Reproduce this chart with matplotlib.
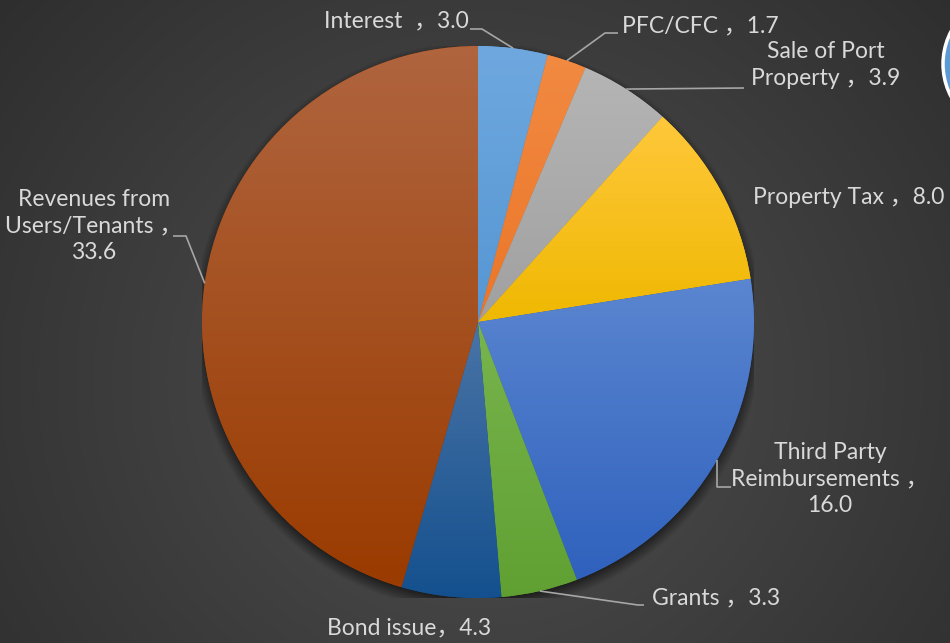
import numpy as np
import matplotlib
matplotlib.use("Agg")
import matplotlib.pyplot as plt
from matplotlib.colors import to_rgb
from matplotlib.patches import Circle

# ---- data -------------------------------------------------------------
categories = ["Interest", "PFC/CFC", "Sale of Port Property", "Property Tax",
              "Third Party Reimbursements", "Grants", "Bond issue",
              "Revenues from Users/Tenants"]
values = [3.0, 1.7, 3.9, 8.0, 16.0, 3.3, 4.3, 33.6]
label_texts = ["Interest  ，3.0", "PFC/CFC ，1.7", "Sale of Port\nProperty ，3.9",
               "Property Tax ，8.0", "Third Party\nReimbursements ，\n16.0",
               "Grants ，3.3", "Bond issue，4.3",
               "Revenues from\nUsers/Tenants ，\n33.6"]

# slice gradients (top -> bottom)
top_colors = ["#6fa8df", "#f28a42", "#b5b5b5", "#ffc83c", "#5b86d0",
              "#78b54e", "#4a74a6", "#b0653f"]
bottom_colors = ["#5596d3", "#ea7628", "#a0a0a0", "#efb800", "#2f61bd",
                 "#60a032", "#14508e", "#9a3b00"]

# label placement (pixel layout, y measured from top)
label_pos = [(469, 21), (622, 26), (826, 65), (849, 197), (830, 479),
             (652, 598), (409, 628), (94, 226)]
label_ha = ["right", "left", "center", "center", "center", "left", "center", "center"]
# leader line elbow points (None = no leader line)
leader_elbow = [[(482, 29), (470, 29)],
                [(605, 33), (618, 33)],
                [(744, 88)],
                None,
                [(717, 487), (731, 487)],
                [(638, 605), (644, 605)],
                None,
                [(186, 236), (173, 236)]]

W, H = 950, 643
CX, CY, R = 478, 322, 276

fig = plt.figure(figsize=(W / 100, H / 100), dpi=100)

# ---- background with radial shading -----------------------------------
ax_bg = fig.add_axes([0, 0, 1, 1], zorder=0)
yy, xx = np.mgrid[0:H, 0:W]
d = np.hypot(xx - 480, (yy - 380) * 1.05) / 700.0
d = np.clip(d, 0, 1)
inner = np.array(to_rgb("#505050"))
outer = np.array(to_rgb("#2a2a2a"))
bg = inner[None, None, :] * (1 - d[..., None]) + outer[None, None, :] * d[..., None]
ax_bg.imshow(bg, extent=(0, W, H, 0), aspect="auto", interpolation="bilinear")
ax_bg.set_xlim(0, W)
ax_bg.set_ylim(H, 0)
ax_bg.axis("off")

# ---- pie -----------------------------------------------------------------
ax = fig.add_axes([(CX - R) / W, (H - CY - R) / H, 2 * R / W, 2 * R / H], zorder=1)
ax.patch.set_visible(False)

# soft drop shadow under the pie
sg = np.linspace(-1.2, 1.2, 600)
sx, sy = np.meshgrid(sg, sg)
sd = np.hypot(sx, sy + 0.018)
salpha = np.clip((1.035 - sd) / 0.05, 0, 1) * 0.55
shadow = np.zeros((600, 600, 4))
shadow[..., 3] = salpha
ax.imshow(shadow, extent=(-1.2, 1.2, -1.2, 1.2), origin="lower",
          interpolation="bilinear", zorder=0)

wedges, _ = ax.pie(values, startangle=90, counterclock=False, radius=1.0,
                   colors=bottom_colors, wedgeprops=dict(linewidth=0))
for w, ct, cb in zip(wedges, top_colors, bottom_colors):
    w.set_zorder(1)
    t = np.radians(np.linspace(w.theta1, w.theta2, 200))
    ys = np.concatenate([[0.0], np.sin(t)])
    xs = np.concatenate([[0.0], np.cos(t)])
    y0, y1 = ys.min(), ys.max()
    x0, x1 = xs.min(), xs.max()
    f = np.linspace(0, 1, 256)[:, None, None]
    grad = np.array(to_rgb(cb))[None, None, :] * (1 - f) + np.array(to_rgb(ct))[None, None, :] * f
    im = ax.imshow(grad, extent=(x0 - 0.01, x1 + 0.01, y0 - 0.01, y1 + 0.01),
                   origin="lower", aspect="auto", interpolation="bilinear", zorder=2)
    im.set_clip_path(w)
ax.set_xlim(-1, 1)
ax.set_ylim(-1, 1)
ax.set_aspect("equal")
ax.axis("off")

# ---- labels and leader lines --------------------------------------------
ov = fig.add_axes([0, 0, 1, 1], zorder=3)
ov.patch.set_visible(False)
ov.set_xlim(0, W)
ov.set_ylim(H, 0)
ov.axis("off")

total = sum(values)
to_ov = ax.transData + ov.transData.inverted()
cum = 0.0
for i, v in enumerate(values):
    mid = 90 - (cum + v / 2) / total * 360
    cum += v
    if leader_elbow[i] is not None:
        anchor = to_ov.transform((np.cos(np.radians(mid)), np.sin(np.radians(mid))))
        pts = [tuple(anchor)] + leader_elbow[i]
        px, py = zip(*pts)
        ov.plot(px, py, color="#a6a6a6", lw=1.2, solid_capstyle="butt")
    ov.text(label_pos[i][0], label_pos[i][1], label_texts[i], ha=label_ha[i],
            va="center", fontsize=16.5, color="#d9d9d9", linespacing=1.3,
            family=["Lato", "Noto Sans CJK SC"], multialignment="center")

# decorative badge in the top-right corner
ov.add_patch(Circle((1013, 64), 70, facecolor="#5b9bd5", edgecolor="white",
                    lw=2.5, clip_on=True))

fig.savefig("out.png", dpi=100)
